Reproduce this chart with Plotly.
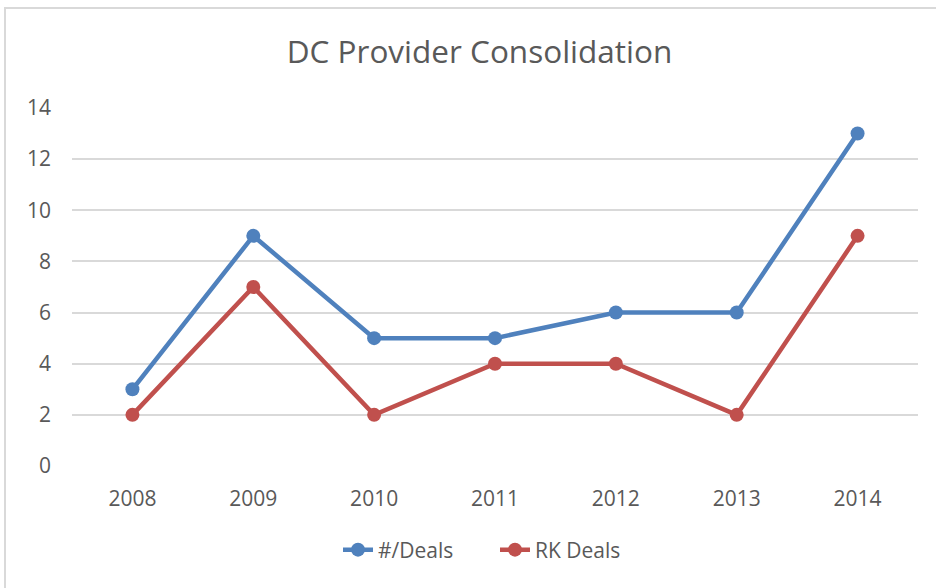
import plotly.graph_objects as go

years = ["2008", "2009", "2010", "2011", "2012", "2013", "2014"]
deals = [3, 9, 5, 5, 6, 6, 13]
rk_deals = [2, 7, 2, 4, 4, 2, 9]
y_ticks = [0, 2, 4, 6, 8, 10, 12, 14]

TXT = "#595959"
FONT = "Open Sans"

fig = go.Figure()
fig.add_trace(go.Scatter(x=years, y=deals, name="#/Deals", mode="lines+markers",
                         line=dict(color="#4F81BD", width=4.5),
                         marker=dict(color="#4F81BD", size=14)))
fig.add_trace(go.Scatter(x=years, y=rk_deals, name="RK Deals", mode="lines+markers",
                         line=dict(color="#C0504D", width=4.5),
                         marker=dict(color="#C0504D", size=14)))

fig.update_layout(
    width=936, height=588,
    margin=dict(l=72, r=18, t=108, b=122),
    paper_bgcolor="white", plot_bgcolor="white",
    title=dict(text="DC Provider Consolidation", x=479.5 / 936, xanchor="center",
               y=1 - 52 / 588, yanchor="middle",
               font=dict(family=FONT, size=31.5, color=TXT)),
    xaxis=dict(type="category", range=[-0.5, 6.5], showgrid=False, zeroline=False,
               showline=False, ticks="", ticklabelstandoff=18,
               tickfont=dict(family=FONT, size=21, color=TXT)),
    yaxis=dict(range=[0, 14], tickvals=y_ticks, showgrid=True, gridcolor="#D9D9D9",
               gridwidth=1.5, zeroline=False, showline=False, ticks="",
               ticklabelstandoff=20,
               tickfont=dict(family=FONT, size=21, color=TXT)),
    legend=dict(orientation="h", x=0.5, xanchor="center", y=-(550 - 466) / 358,
                yanchor="middle", font=dict(family=FONT, size=21, color=TXT),
                entrywidth=112),
    showlegend=True,
    shapes=[dict(type="rect", xref="paper", yref="paper",
                 x0=(5 - 72) / 846, x1=2, y0=-2, y1=(466 - 8) / 358,
                 line=dict(color="#D9D9D9", width=2), layer="below")],
)

fig.write_html("out.html", config={"displayModeBar": False},
               post_script="document.body.style.margin='0';")
